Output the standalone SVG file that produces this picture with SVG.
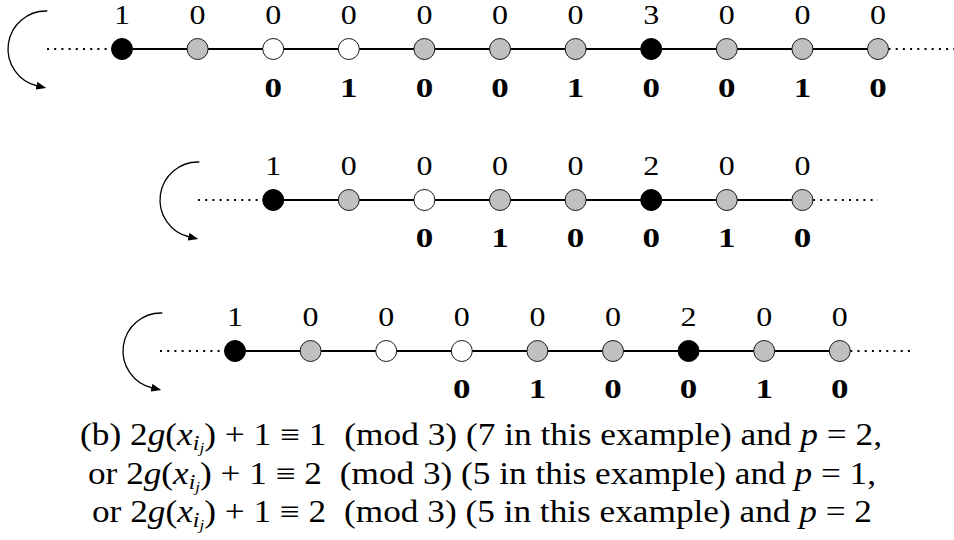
<svg xmlns="http://www.w3.org/2000/svg" width="954" height="540" viewBox="0 0 954 540">
<defs>
<style>
.b{fill:#000;stroke:#000;stroke-width:1}
.g{fill:#c0c0c0;stroke:#1a1a1a;stroke-width:1}
.w{fill:#fff;stroke:#1a1a1a;stroke-width:1}
.e{stroke:#000;stroke-width:1.8;fill:none}
.d{stroke:#000;stroke-width:2;stroke-dasharray:2 5.2;fill:none}
.a{stroke:#000;stroke-width:1.3;fill:none;marker-end:url(#ah)}
.t{font-family:"Liberation Serif","DejaVu Serif",serif;font-size:27px;text-anchor:middle;fill:#000}
.bl{font-family:"Liberation Serif","DejaVu Serif",serif;font-size:27px;font-weight:bold;text-anchor:middle;fill:#000}
.cap{font-family:"Liberation Serif","DejaVu Serif",serif;font-size:31px;fill:#000}
.it{font-style:italic}
</style>
<marker id="ah" viewBox="0 0 10 8" refX="1" refY="4" markerWidth="10" markerHeight="8" markerUnits="userSpaceOnUse" orient="auto">
<path d="M0,0 L10,4 L0,8 Z" fill="#000"/>
</marker>
</defs>

<g id="connectors">
<line class="d" x1="47" y1="49" x2="111.5" y2="49"/>
<line class="e" x1="122" y1="49" x2="878" y2="49"/>
<line class="d" x1="888.5" y1="49" x2="954" y2="49"/>
<path class="a" d="M47.3 11 A38 38 0 0 0 37.45 86"/>
<line class="d" x1="198" y1="200" x2="262.7" y2="200"/>
<line class="e" x1="273.2" y1="200" x2="802.4" y2="200"/>
<line class="d" x1="813" y1="200" x2="878" y2="200"/>
<path class="a" d="M199.3 162 A38 38 0 0 0 189.45 237"/>
<line class="d" x1="160" y1="351" x2="224.5" y2="351"/>
<line class="e" x1="235" y1="351" x2="839.8" y2="351"/>
<line class="d" x1="850.3" y1="351" x2="915" y2="351"/>
<path class="a" d="M162.3 313 A38 38 0 0 0 152.45 388"/>
</g>

<g id="r1n0"><circle class="b" cx="122" cy="49" r="10.5"/><text class="t" x="122" y="23.5" textLength="16" lengthAdjust="spacingAndGlyphs">1</text></g>
<g id="r1n1"><circle class="g" cx="197.6" cy="49" r="10.5"/><text class="t" x="197.6" y="23.5" textLength="16" lengthAdjust="spacingAndGlyphs">0</text></g>
<g id="r1n2"><circle class="w" cx="273.2" cy="49" r="10.5"/><text class="t" x="273.2" y="23.5" textLength="16" lengthAdjust="spacingAndGlyphs">0</text><text class="bl" x="273.2" y="96.5" textLength="17.5" lengthAdjust="spacingAndGlyphs">0</text></g>
<g id="r1n3"><circle class="w" cx="348.8" cy="49" r="10.5"/><text class="t" x="348.8" y="23.5" textLength="16" lengthAdjust="spacingAndGlyphs">0</text><text class="bl" x="348.8" y="96.5" textLength="17.5" lengthAdjust="spacingAndGlyphs">1</text></g>
<g id="r1n4"><circle class="g" cx="424.4" cy="49" r="10.5"/><text class="t" x="424.4" y="23.5" textLength="16" lengthAdjust="spacingAndGlyphs">0</text><text class="bl" x="424.4" y="96.5" textLength="17.5" lengthAdjust="spacingAndGlyphs">0</text></g>
<g id="r1n5"><circle class="g" cx="500" cy="49" r="10.5"/><text class="t" x="500" y="23.5" textLength="16" lengthAdjust="spacingAndGlyphs">0</text><text class="bl" x="500" y="96.5" textLength="17.5" lengthAdjust="spacingAndGlyphs">0</text></g>
<g id="r1n6"><circle class="g" cx="575.6" cy="49" r="10.5"/><text class="t" x="575.6" y="23.5" textLength="16" lengthAdjust="spacingAndGlyphs">0</text><text class="bl" x="575.6" y="96.5" textLength="17.5" lengthAdjust="spacingAndGlyphs">1</text></g>
<g id="r1n7"><circle class="b" cx="651.2" cy="49" r="10.5"/><text class="t" x="651.2" y="23.5" textLength="16" lengthAdjust="spacingAndGlyphs">3</text><text class="bl" x="651.2" y="96.5" textLength="17.5" lengthAdjust="spacingAndGlyphs">0</text></g>
<g id="r1n8"><circle class="g" cx="726.8" cy="49" r="10.5"/><text class="t" x="726.8" y="23.5" textLength="16" lengthAdjust="spacingAndGlyphs">0</text><text class="bl" x="726.8" y="96.5" textLength="17.5" lengthAdjust="spacingAndGlyphs">0</text></g>
<g id="r1n9"><circle class="g" cx="802.4" cy="49" r="10.5"/><text class="t" x="802.4" y="23.5" textLength="16" lengthAdjust="spacingAndGlyphs">0</text><text class="bl" x="802.4" y="96.5" textLength="17.5" lengthAdjust="spacingAndGlyphs">1</text></g>
<g id="r1n10"><circle class="g" cx="878" cy="49" r="10.5"/><text class="t" x="878" y="23.5" textLength="16" lengthAdjust="spacingAndGlyphs">0</text><text class="bl" x="878" y="96.5" textLength="17.5" lengthAdjust="spacingAndGlyphs">0</text></g>

<g id="r2n0"><circle class="b" cx="273.2" cy="200" r="10.5"/><text class="t" x="273.2" y="174.5" textLength="16" lengthAdjust="spacingAndGlyphs">1</text></g>
<g id="r2n1"><circle class="g" cx="348.8" cy="200" r="10.5"/><text class="t" x="348.8" y="174.5" textLength="16" lengthAdjust="spacingAndGlyphs">0</text></g>
<g id="r2n2"><circle class="w" cx="424.4" cy="200" r="10.5"/><text class="t" x="424.4" y="174.5" textLength="16" lengthAdjust="spacingAndGlyphs">0</text><text class="bl" x="424.4" y="247" textLength="17.5" lengthAdjust="spacingAndGlyphs">0</text></g>
<g id="r2n3"><circle class="g" cx="500" cy="200" r="10.5"/><text class="t" x="500" y="174.5" textLength="16" lengthAdjust="spacingAndGlyphs">0</text><text class="bl" x="500" y="247" textLength="17.5" lengthAdjust="spacingAndGlyphs">1</text></g>
<g id="r2n4"><circle class="g" cx="575.6" cy="200" r="10.5"/><text class="t" x="575.6" y="174.5" textLength="16" lengthAdjust="spacingAndGlyphs">0</text><text class="bl" x="575.6" y="247" textLength="17.5" lengthAdjust="spacingAndGlyphs">0</text></g>
<g id="r2n5"><circle class="b" cx="651.2" cy="200" r="10.5"/><text class="t" x="651.2" y="174.5" textLength="16" lengthAdjust="spacingAndGlyphs">2</text><text class="bl" x="651.2" y="247" textLength="17.5" lengthAdjust="spacingAndGlyphs">0</text></g>
<g id="r2n6"><circle class="g" cx="726.8" cy="200" r="10.5"/><text class="t" x="726.8" y="174.5" textLength="16" lengthAdjust="spacingAndGlyphs">0</text><text class="bl" x="726.8" y="247" textLength="17.5" lengthAdjust="spacingAndGlyphs">1</text></g>
<g id="r2n7"><circle class="g" cx="802.4" cy="200" r="10.5"/><text class="t" x="802.4" y="174.5" textLength="16" lengthAdjust="spacingAndGlyphs">0</text><text class="bl" x="802.4" y="247" textLength="17.5" lengthAdjust="spacingAndGlyphs">0</text></g>

<g id="r3n0"><circle class="b" cx="235" cy="351" r="10.5"/><text class="t" x="235" y="325.5" textLength="16" lengthAdjust="spacingAndGlyphs">1</text></g>
<g id="r3n1"><circle class="g" cx="310.6" cy="351" r="10.5"/><text class="t" x="310.6" y="325.5" textLength="16" lengthAdjust="spacingAndGlyphs">0</text></g>
<g id="r3n2"><circle class="w" cx="386.2" cy="351" r="10.5"/><text class="t" x="386.2" y="325.5" textLength="16" lengthAdjust="spacingAndGlyphs">0</text></g>
<g id="r3n3"><circle class="w" cx="461.8" cy="351" r="10.5"/><text class="t" x="461.8" y="325.5" textLength="16" lengthAdjust="spacingAndGlyphs">0</text><text class="bl" x="461.8" y="398" textLength="17.5" lengthAdjust="spacingAndGlyphs">0</text></g>
<g id="r3n4"><circle class="g" cx="537.4" cy="351" r="10.5"/><text class="t" x="537.4" y="325.5" textLength="16" lengthAdjust="spacingAndGlyphs">0</text><text class="bl" x="537.4" y="398" textLength="17.5" lengthAdjust="spacingAndGlyphs">1</text></g>
<g id="r3n5"><circle class="g" cx="613" cy="351" r="10.5"/><text class="t" x="613" y="325.5" textLength="16" lengthAdjust="spacingAndGlyphs">0</text><text class="bl" x="613" y="398" textLength="17.5" lengthAdjust="spacingAndGlyphs">0</text></g>
<g id="r3n6"><circle class="b" cx="688.6" cy="351" r="10.5"/><text class="t" x="688.6" y="325.5" textLength="16" lengthAdjust="spacingAndGlyphs">2</text><text class="bl" x="688.6" y="398" textLength="17.5" lengthAdjust="spacingAndGlyphs">0</text></g>
<g id="r3n7"><circle class="g" cx="764.2" cy="351" r="10.5"/><text class="t" x="764.2" y="325.5" textLength="16" lengthAdjust="spacingAndGlyphs">0</text><text class="bl" x="764.2" y="398" textLength="17.5" lengthAdjust="spacingAndGlyphs">1</text></g>
<g id="r3n8"><circle class="g" cx="839.8" cy="351" r="10.5"/><text class="t" x="839.8" y="325.5" textLength="16" lengthAdjust="spacingAndGlyphs">0</text><text class="bl" x="839.8" y="398" textLength="17.5" lengthAdjust="spacingAndGlyphs">0</text></g>

<g id="caption">
<text class="cap" x="80" y="445" textLength="802" lengthAdjust="spacingAndGlyphs">(b) 2<tspan class="it">g</tspan>(<tspan class="it">x</tspan><tspan class="it" font-size="21" dy="5">i</tspan><tspan class="it" font-size="15" dy="3">j</tspan><tspan dy="-8">) + 1 ≡ 1 </tspan><tspan dx="8">(mod 3) (7 in this example) and </tspan><tspan class="it">p</tspan> = 2,</text>
<text class="cap" x="88" y="484" textLength="788" lengthAdjust="spacingAndGlyphs">or 2<tspan class="it">g</tspan>(<tspan class="it">x</tspan><tspan class="it" font-size="21" dy="5">i</tspan><tspan class="it" font-size="15" dy="3">j</tspan><tspan dy="-8">) + 1 ≡ 2 </tspan><tspan dx="8">(mod 3) (5 in this example) and </tspan><tspan class="it">p</tspan> = 1,</text>
<text class="cap" x="92" y="522" textLength="780" lengthAdjust="spacingAndGlyphs">or 2<tspan class="it">g</tspan>(<tspan class="it">x</tspan><tspan class="it" font-size="21" dy="5">i</tspan><tspan class="it" font-size="15" dy="3">j</tspan><tspan dy="-8">) + 1 ≡ 2 </tspan><tspan dx="8">(mod 3) (5 in this example) and </tspan><tspan class="it">p</tspan> = 2</text>
</g>
</svg>
